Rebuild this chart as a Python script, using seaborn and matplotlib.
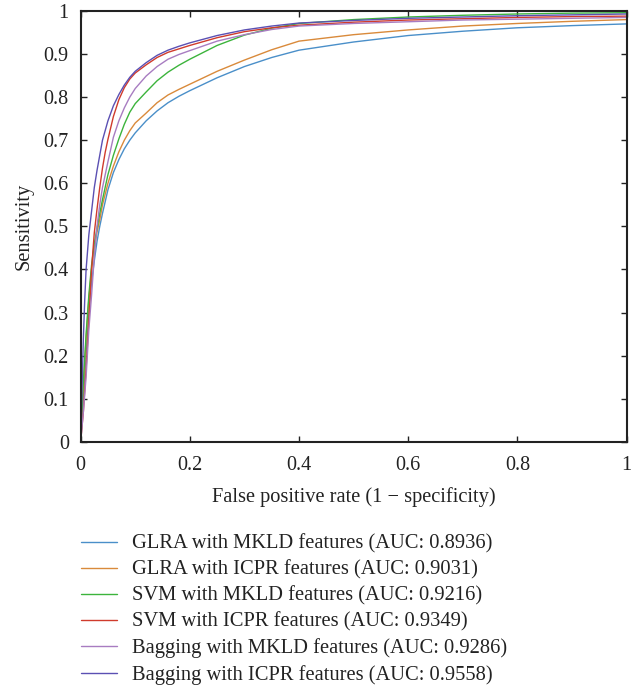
import numpy as np
import pandas as pd
import matplotlib
matplotlib.use("Agg")
import matplotlib.pyplot as plt
import seaborn as sns

labels = [
    "GLRA with MKLD features (AUC: 0.8936)",
    "GLRA with ICPR features (AUC: 0.9031)",
    "SVM with MKLD features (AUC: 0.9216)",
    "SVM with ICPR features (AUC: 0.9349)",
    "Bagging with MKLD features (AUC: 0.9286)",
    "Bagging with ICPR features (AUC: 0.9558)",
]
colors = ["#4a8fc9", "#d98a3b", "#3cb43c", "#d03b2c", "#a87cc1", "#5b50b3"]

fpr_glra_mkld = [0, .005, .01, .015, .02, .025, .03, .035, .04, .05, .06, .07, .08, .09, .10, .12, .14, .16, .18, .20, .25, .30, .35, .40, .50, .60, .70, .80, .90, 1.0]
tpr_glra_mkld = [0, .11, .21, .30, .37, .42, .465, .50, .53, .585, .625, .655, .68, .70, .717, .745, .768, .787, .802, .815, .845, .871, .892, .909, .928, .943, .953, .961, .966, .970]

fpr_glra_icpr = [0, .005, .01, .015, .02, .025, .03, .035, .04, .05, .06, .07, .08, .09, .10, .12, .14, .16, .18, .20, .25, .30, .35, .40, .50, .60, .70, .80, .90, 1.0]
tpr_glra_icpr = [0, .13, .24, .33, .40, .45, .487, .515, .55, .60, .64, .673, .70, .722, .74, .763, .787, .805, .818, .83, .86, .886, .91, .93, .945, .956, .965, .971, .976, .980]

fpr_svm_mkld = [0, .005, .01, .015, .02, .025, .03, .035, .04, .05, .06, .07, .08, .09, .10, .12, .14, .16, .18, .20, .25, .30, .35, .40, .50, .60, .70, .80, .90, 1.0]
tpr_svm_mkld = [0, .14, .25, .34, .41, .46, .495, .53, .562, .62, .665, .703, .737, .765, .785, .812, .838, .858, .874, .888, .92, .944, .96, .971, .98, .986, .99, .993, .995, .996]

fpr_svm_icpr = [0, .005, .01, .015, .02, .025, .03, .035, .04, .045, .05, .06, .07, .08, .09, .10, .12, .14, .16, .18, .20, .25, .30, .35, .40, .50, .60, .70, .80, .90, 1.0]
tpr_svm_icpr = [0, .07, .17, .28, .40, .485, .54, .59, .635, .672, .702, .755, .794, .822, .842, .856, .875, .892, .904, .912, .92, .938, .952, .961, .967, .974, .979, .982, .985, .987, .988]

fpr_bag_mkld = [0, .005, .01, .015, .02, .025, .03, .035, .04, .05, .06, .07, .08, .09, .10, .12, .14, .16, .18, .20, .25, .30, .35, .40, .50, .60, .70, .80, .90, 1.0]
tpr_bag_mkld = [0, .07, .15, .26, .34, .43, .50, .55, .59, .65, .707, .745, .775, .80, .82, .849, .871, .888, .899, .908, .93, .945, .957, .965, .971, .975, .979, .981, .983, .985]

fpr_bag_icpr = [0, .0025, .005, .0075, .01, .015, .02, .025, .03, .035, .04, .05, .06, .07, .08, .09, .10, .12, .14, .16, .18, .20, .25, .30, .35, .40, .50, .60, .70, .80, .90, 1.0]
tpr_bag_icpr = [0, .12, .24, .33, .40, .48, .535, .59, .63, .665, .70, .745, .78, .806, .828, .846, .86, .88, .897, .909, .918, .926, .943, .956, .965, .972, .978, .983, .986, .989, .991, .993]

series = [
    (fpr_glra_mkld, tpr_glra_mkld),
    (fpr_glra_icpr, tpr_glra_icpr),
    (fpr_svm_mkld, tpr_svm_mkld),
    (fpr_svm_icpr, tpr_svm_icpr),
    (fpr_bag_mkld, tpr_bag_mkld),
    (fpr_bag_icpr, tpr_bag_icpr),
]

frames = []
for lab, (fx, ty) in zip(labels, series):
    frames.append(pd.DataFrame({"fpr": fx, "tpr": ty, "method": lab}))
df = pd.concat(frames, ignore_index=True)

sns.set_theme(style="ticks")
plt.rcParams["font.family"] = ["Liberation Serif", "DejaVu Serif"]

fig = plt.figure(figsize=(6.4, 6.86), dpi=100)
ax = fig.add_axes([0.126, 0.356, 0.853, 0.628])

sns.lineplot(data=df, x="fpr", y="tpr", hue="method", hue_order=labels,
             palette=dict(zip(labels, colors)), sort=False, estimator=None,
             units="method", linewidth=1.0, ax=ax, legend=True)

ax.set_xlim(0, 1)
ax.set_ylim(0, 1)
xt = [0, 0.2, 0.4, 0.6, 0.8, 1]
yt = [0, 0.1, 0.2, 0.3, 0.4, 0.5, 0.6, 0.7, 0.8, 0.9, 1]
ax.set_xticks(xt)
ax.set_xticklabels(["0", "0.2", "0.4", "0.6", "0.8", "1"])
ax.set_yticks(yt)
ax.set_yticklabels(["0", "0.1", "0.2", "0.3", "0.4", "0.5", "0.6", "0.7", "0.8", "0.9", "1"])
ax.tick_params(direction="in", top=True, right=True, length=4, width=1.0,
               labelsize=14.5, colors="#222222")
ax.tick_params(axis="x", pad=10.5)
ax.tick_params(axis="y", pad=8.5)
for s in ax.spines.values():
    s.set_linewidth(1.5)
    s.set_color("#222222")
ax.set_xlabel("False positive rate (1 \u2212 specificity)", fontsize=14.7, color="#222222", labelpad=8.5)
ax.set_ylabel("Sensitivity", fontsize=14.7, color="#222222", labelpad=7.5)

handles, lbls = ax.get_legend_handles_labels()
ax.legend(handles, lbls, loc="upper left", bbox_to_anchor=(0.114, 0.233),
          bbox_transform=fig.transFigure, frameon=False, fontsize=14.8,
          handlelength=1.75, handletextpad=0.7, labelspacing=0.32, borderaxespad=0)
for t in ax.get_legend().get_texts():
    t.set_color("#222222")

fig.savefig("out.png", dpi=100)
